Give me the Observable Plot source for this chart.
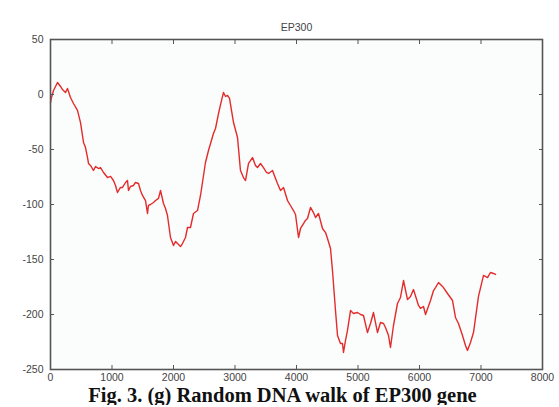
<!DOCTYPE html>
<html>
<head>
<meta charset="utf-8">
<script src="https://cdn.jsdelivr.net/npm/d3@7"></script>
<script src="https://cdn.jsdelivr.net/npm/@observablehq/plot@0.6"></script>
<style>
  html, body { margin: 0; padding: 0; background: #ffffff; }
  #chart svg { display: block; }
  .caption {
    font-family: "Liberation Serif", "Times New Roman", serif;
    font-weight: bold;
    font-size: 20.5px;
    line-height: 20px;
    text-align: center;
    width: 559px;
    margin: 0;
    padding-left: 6px;
    box-sizing: border-box;
    color: #111;
  }
</style>
</head>
<body>
<div id="chart"></div>
<div class="caption">Fig. 3. (g) Random DNA walk of EP300 gene</div>
<script>
// Cumulative walk position (y) against base index (x) along the EP300 sequence
const walkPosition = [
  0, 16, 49, 114, 163, 195, 244, 276, 325, 374, 439, 488, 537, 569, 602, 618, 650, 699, 732, 780,
  813, 862, 927, 976, 1024, 1057, 1089, 1138, 1171, 1220, 1252, 1268, 1301, 1350, 1382, 1431, 1463, 1496, 1545, 1577,
  1593, 1626, 1675, 1707, 1756, 1789, 1837, 1870, 1902, 1951, 2000, 2033, 2065, 2114, 2146, 2195, 2228, 2276, 2325, 2390,
  2439, 2520, 2569, 2602, 2650, 2683, 2732, 2780, 2813, 2846, 2878, 2911, 2943, 2976, 3041, 3089, 3138, 3171, 3220, 3285,
  3333, 3366, 3415, 3463, 3512, 3545, 3610, 3659, 3691, 3740, 3789, 3854, 3902, 3951, 3984, 4033, 4065, 4114, 4146, 4179,
  4228, 4276, 4309, 4358, 4423, 4472, 4504, 4553, 4585, 4634, 4667, 4715, 4748, 4764, 4797, 4829, 4878, 4927, 4992, 5041,
  5089, 5154, 5203, 5252, 5317, 5366, 5415, 5447, 5496, 5528, 5577, 5642, 5691, 5740, 5805, 5854, 5902, 5984, 6016, 6065,
  6098, 6179, 6228, 6260, 6309, 6390, 6455, 6537, 6585, 6634, 6699, 6748, 6780, 6829, 6878, 6959, 7041, 7106, 7154, 7203,
  7236
];
const walkValue = [
  -7.3, -2.7, 3.6, 10.9, 7.3, 4.5, 1.8, 5.5, -2.7, -8.2, -14.5, -25.5, -43.6, -48.2, -57.3, -62.7, -64.5, -69.1, -65.5, -67.3,
  -66.4, -70.9, -75.5, -74.5, -78.2, -82.7, -89.1, -84.5, -84.5, -80, -78.2, -87.3, -83.6, -82.7, -80, -80.9, -87.3, -91.8, -96.4, -108.2,
  -100.9, -100, -98.2, -96.4, -94.5, -87.3, -99.1, -103.6, -110, -130, -137.3, -133.6, -135.5, -138.2, -135.5, -130, -120.9, -120.9, -108.2, -105.5,
  -91.8, -61.8, -50.9, -44.5, -35.5, -30.9, -17.3, -5.5, 1.8, -1.8, -0.9, -3.6, -14.5, -25.5, -39.1, -69.1, -75.5, -78.2, -62.7, -57.3,
  -64.5, -66.4, -62.7, -66.4, -70.9, -71.8, -69.1, -76.4, -80.9, -87.3, -84.5, -96.4, -100.9, -105.5, -109.1, -130, -121.8, -117.3, -114.5, -112.7,
  -102.7, -107.3, -111.8, -108.2, -121.8, -125.5, -130.9, -140, -160, -196.4, -219.1, -226.4, -226.4, -234.5, -223.6, -214.5, -196.4, -199.1, -198.2, -200,
  -200.9, -216.4, -208.2, -198.2, -216.4, -207.3, -208.2, -211.8, -219.1, -230, -210, -190, -184.5, -169.1, -186.4, -183.6, -177.3, -191.8, -194.5, -192.7,
  -200, -187.3, -178.2, -175.5, -170.9, -175.5, -180.9, -187.3, -202.7, -208.2, -219.1, -228.2, -232.7, -225.5, -216.4, -183.6, -164.5, -166.4, -161.8, -162.7,
  -163.6
];
const xTicks = [0, 1000, 2000, 3000, 4000, 5000, 6000, 7000, 8000];
const yTicks = [-250, -200, -150, -100, -50, 0, 50];
const chartTitle = "EP300";

const walk = walkPosition.map((x, i) => ({x, y: walkValue[i]}));

const axisFont = {fontSize: 10.5, fill: "#444"};

const chart = Plot.plot({
  width: 559,
  height: 385,
  marginTop: 39,
  marginLeft: 50,
  marginRight: 17,
  marginBottom: 16,
  style: {fontFamily: "'Liberation Sans', Arial, sans-serif", fontSize: "10.5px", color: "#444", background: "#ffffff"},
  x: {domain: [0, 8000]},
  y: {domain: [-250, 50]},
  marks: [
    Plot.frame({fill: "#fbfcfc", stroke: null}),
    Plot.line(walk, {x: "x", y: "y", stroke: "#e42b2b", strokeWidth: 1.4, strokeLinejoin: "round"}),
    // labelled axes on left and bottom
    Plot.axisX({anchor: "bottom", ticks: xTicks, tickSize: 0, tickPadding: 4, tickFormat: d => String(d), label: null, ...axisFont}),
    Plot.axisY({anchor: "left", ticks: yTicks, tickSize: 0, tickPadding: 7, tickFormat: d => String(d), label: null, ...axisFont}),
    // inward tick marks on all four sides
    Plot.axisX({anchor: "bottom", ticks: xTicks, tickSize: -4, text: null, label: null, stroke: "#555"}),
    Plot.axisX({anchor: "top", ticks: xTicks, tickSize: -4, text: null, label: null, stroke: "#555"}),
    Plot.axisY({anchor: "left", ticks: yTicks, tickSize: -4, text: null, label: null, stroke: "#555"}),
    Plot.axisY({anchor: "right", ticks: yTicks, tickSize: -4, text: null, label: null, stroke: "#555"}),
    Plot.frame({stroke: "#555", strokeWidth: 1.6}),
    Plot.text([chartTitle], {frameAnchor: "top", dy: -16, text: d => d, fontSize: 10.5, fill: "#444"})
  ]
});

document.getElementById("chart").appendChild(chart);
</script>
</body>
</html>
